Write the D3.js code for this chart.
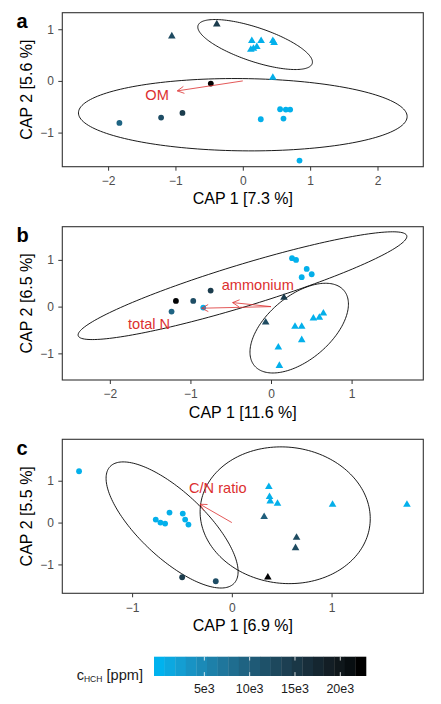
<!DOCTYPE html>
<html>
<head>
<meta charset="utf-8">
<script src="https://cdn.jsdelivr.net/npm/d3@7"></script>
<style>
  body { margin: 0; background: #fff; }
  svg text { font-family: "Liberation Sans", Arial, sans-serif; }
</style>
</head>
<body>
<svg id="chart" width="441" height="704"></svg>
<script>
// ---- data ----
const panelLetters = ['a', 'b', 'c'];
const xTitles = ['CAP 1 [7.3 %]', 'CAP 1 [11.6 %]', 'CAP 1 [6.9 %]'];
const yTitles = ['CAP 2 [5.6 %]', 'CAP 2 [6.5 %]', 'CAP 2 [5.5 %]'];

const xDomains = [[-2.68, 2.68], [-2.59, 1.89], [-1.70, 1.92]];
const yDomains = [[-1.66, 1.32], [-1.57, 1.71], [-1.69, 1.99]];
const xTicks = [[-2, -1, 0, 1, 2], [-2, -1, 0, 1], [-1, 0, 1]];
const yTicks = [[-1, 0, 1], [-1, 0, 1], [-1, 0, 1]];

// [CAP1, CAP2, cHCH ppm]
const aCircles = [
  [-0.475, -0.052, 22000], [-1.832, -0.813, 9300], [-1.213, -0.710, 12200],
  [-0.896, -0.619, 14500], [0.267, -0.742, 400], [0.554, -0.548, 300],
  [0.639, -0.555, 200], [0.703, -0.555, 300], [0.604, -0.729, 500],
  [0.842, -1.542, 200]
];
const aTriangles = [
  [-0.386, 1.097, 14500], [-1.054, 0.865, 12500], [0.134, 0.774, 300],
  [0.272, 0.774, 400], [0.158, 0.626, 200], [0.208, 0.658, 300],
  [0.119, 0.606, 500], [0.446, 0.774, 300], [0.465, 0.735, 200],
  [0.446, 0.065, 400]
];
const bCircles = [
  [-1.180, 0.121, 22000], [-1.234, -0.107, 9300], [-0.965, 0.121, 12200],
  [-0.749, 0.343, 14500], [-0.841, -0.021, 400], [0.261, 1.036, 300],
  [0.311, 1.000, 200], [0.443, 0.807, 300], [0.505, 0.693, 500],
  [0.381, 0.629, 200]
];
const bTriangles = [
  [0.161, 0.193, 14500], [-0.066, -0.336, 12500], [0.298, -0.429, 300],
  [0.381, -0.429, 400], [0.526, -0.250, 200], [0.600, -0.236, 300],
  [0.650, -0.143, 500], [0.381, -0.714, 300], [0.091, -0.871, 200],
  [0.104, -1.264, 400]
];
const cCircles = [
  [-1.532, 1.227, 300], [-0.763, 0.072, 400], [-0.716, 0.000, 200],
  [-0.669, -0.024, 300], [-0.625, 0.239, 500], [-0.492, 0.215, 300],
  [-0.468, 0.072, 200], [-0.435, -0.048, 400], [-0.498, -1.307, 14500],
  [-0.161, -1.402, 12200]
];
const cTriangles = [
  [0.371, 0.853, 300], [0.378, 0.614, 400], [0.385, 0.510, 200],
  [0.458, 0.454, 300], [1.010, 0.430, 500], [1.756, 0.430, 200],
  [0.324, 0.135, 10000], [0.649, -0.359, 12500], [0.639, -0.606, 12500],
  [0.361, -1.307, 22000]
];

// ellipses: [centre x, centre y, half-extent x, half-extent y, correlation]
const aEllipses = [[0.183, 0.704, 0.851, 0.484, -0.70], [0.0, -0.654, 2.44, 0.70, -0.05]];
const bEllipses = [[-0.354, 0.448, 2.04, 1.153, 0.914], [0.35, -0.46, 0.611, 0.96, 0.535]];
const cEllipses = [[-0.599, -0.057, 0.662, 1.507, -0.74], [0.535, 0.175, 0.853, 1.634, -0.05]];

// fitted vectors: [tip x, tip y, label, label x, label y]
const aVectors = [[-0.972, -0.193, 'OM', -1.273, -0.373]];
const bVectors = [[-0.476, 0.086, 'ammonium', -0.164, 0.347], [-0.861, -0.034, 'total N', -1.513, -0.478]];
const cVectors = [[-0.319, 0.438, 'C/N ratio', -0.141, 0.70]];

const cHchRange = [30, 22250];
const legendTicks = [5000, 10000, 15000, 20000];
const legendTickLabels = ['5e3', '10e3', '15e3', '20e3'];

// ---- layout ----
const plotLeft = 62.3, plotRight = 423.3;
const panelTops = [12.7, 226.7, 439.3];
const panelBottoms = [166.7, 380, 593.3];
const red = '#dc2f2f';

const svg = d3.select('#chart');
const color = d3.scaleLinear().domain(cHchRange).range(['#00b2ee', '#000000'])
  .interpolate(d3.interpolateLab);

const panels = [
  { circles: aCircles, triangles: aTriangles, ellipses: aEllipses, vectors: aVectors },
  { circles: bCircles, triangles: bTriangles, ellipses: bEllipses, vectors: bVectors },
  { circles: cCircles, triangles: cTriangles, ellipses: cEllipses, vectors: cVectors }
];

panels.forEach((p, i) => drawPanel(p, i));
drawLegend();

function drawPanel(p, i) {
  const top = panelTops[i], bottom = panelBottoms[i];
  const x = d3.scaleLinear().domain(xDomains[i]).range([plotLeft, plotRight]);
  const y = d3.scaleLinear().domain(yDomains[i]).range([bottom, top]);
  const g = svg.append('g');

  g.append('clipPath').attr('id', 'clip' + i)
    .append('rect')
    .attr('x', plotLeft).attr('y', top)
    .attr('width', plotRight - plotLeft).attr('height', bottom - top);

  const inner = g.append('g').attr('clip-path', `url(#clip${i})`);

  // ellipses
  const line = d3.line().curve(d3.curveLinearClosed);
  p.ellipses.forEach(([cx, cy, sx, sy, r]) => {
    const pts = d3.range(0, 180).map(k => {
      const t = 2 * Math.PI * k / 180;
      return [x(cx + sx * Math.cos(t)),
              y(cy + sy * (r * Math.cos(t) + Math.sqrt(1 - r * r) * Math.sin(t)))];
    });
    inner.append('path')
      .attr('d', line(pts))
      .attr('fill', 'none')
      .attr('stroke', '#000')
      .attr('stroke-width', 0.9);
  });

  // points
  inner.selectAll('circle.pt')
    .data(p.circles)
    .enter()
    .append('circle')
    .attr('class', 'pt')
    .attr('cx', d => x(d[0]))
    .attr('cy', d => y(d[1]))
    .attr('r', 2.9)
    .attr('fill', d => color(d[2]));

  const tri = d3.symbol().type(d3.symbolTriangle).size(25);
  inner.selectAll('path.tri')
    .data(p.triangles)
    .enter()
    .append('path')
    .attr('class', 'tri')
    .attr('d', tri)
    .attr('transform', d => `translate(${x(d[0])},${y(d[1])})`)
    .attr('fill', d => color(d[2]));

  // vectors
  p.vectors.forEach(([vx, vy, label, lx, ly]) => {
    const x0 = x(0), y0 = y(0), x1 = x(vx), y1 = y(vy);
    const ang = Math.atan2(y1 - y0, x1 - x0);
    const len = 7.5, spread = 28 * Math.PI / 180;
    inner.append('line')
      .attr('x1', x0).attr('y1', y0).attr('x2', x1).attr('y2', y1)
      .attr('stroke', red).attr('stroke-width', 0.8);
    inner.append('path')
      .attr('d', `M${x1 - len * Math.cos(ang - spread)},${y1 - len * Math.sin(ang - spread)}` +
                 `L${x1},${y1}` +
                 `L${x1 - len * Math.cos(ang + spread)},${y1 - len * Math.sin(ang + spread)}`)
      .attr('fill', 'none').attr('stroke', red).attr('stroke-width', 0.8);
    inner.append('text')
      .attr('x', x(lx)).attr('y', y(ly))
      .attr('text-anchor', 'middle')
      .attr('font-size', 14.6)
      .attr('fill', red)
      .text(label);
  });

  // axes
  const fmt = d3.format('d');
  const xAxis = g.append('g')
    .attr('transform', `translate(0,${bottom})`)
    .call(d3.axisBottom(x).tickValues(xTicks[i]).tickFormat(fmt).tickSize(4).tickPadding(5.9));
  const yAxis = g.append('g')
    .attr('transform', `translate(${plotLeft},0)`)
    .call(d3.axisLeft(y).tickValues(yTicks[i]).tickFormat(fmt).tickSize(4).tickPadding(4.3));
  [xAxis, yAxis].forEach(ax => {
    ax.select('.domain').remove();
    ax.selectAll('line').attr('stroke', '#333').attr('stroke-width', 1);
    ax.selectAll('text').attr('fill', '#4d4d4d').attr('font-size', 12)
      .attr('font-family', '"Liberation Sans", Arial, sans-serif');
  });

  // panel border
  g.append('rect')
    .attr('x', plotLeft).attr('y', top)
    .attr('width', plotRight - plotLeft).attr('height', bottom - top)
    .attr('fill', 'none').attr('stroke', '#333').attr('stroke-width', 1.1);

  // titles
  g.append('text')
    .attr('x', (plotLeft + plotRight) / 2)
    .attr('y', bottom + 37.7)
    .attr('text-anchor', 'middle')
    .attr('font-size', 16)
    .text(xTitles[i]);

  g.append('text')
    .attr('transform', `translate(32.3,${(top + bottom) / 2}) rotate(-90)`)
    .attr('text-anchor', 'middle')
    .attr('font-size', 16)
    .text(yTitles[i]);

  g.append('text')
    .attr('x', 16.5)
    .attr('y', top + 15.6)
    .attr('font-size', 20)
    .attr('font-weight', 'bold')
    .text(panelLetters[i]);
}

function drawLegend() {
  const barLeft = 154, barRight = 366, barTop = 656.7, barBottom = 676;
  const nbin = 20;
  const binW = (barRight - barLeft) / nbin;
  const g = svg.append('g');

  const binValues = d3.range(nbin).map(k =>
    cHchRange[0] + k / (nbin - 1) * (cHchRange[1] - cHchRange[0]));

  g.selectAll('rect.bin')
    .data(binValues)
    .enter()
    .append('rect')
    .attr('class', 'bin')
    .attr('x', (d, k) => barLeft + k * binW)
    .attr('y', barTop)
    .attr('width', binW + 0.3)
    .attr('height', barBottom - barTop)
    .attr('fill', d => color(d));

  const lx = d3.scaleLinear().domain(cHchRange)
    .range([barLeft + binW / 2, barRight - binW / 2]);
  const tickLen = (barBottom - barTop) / 5;

  legendTicks.forEach((v, k) => {
    g.append('line')
      .attr('x1', lx(v)).attr('x2', lx(v))
      .attr('y1', barTop).attr('y2', barTop + tickLen)
      .attr('stroke', '#fff').attr('stroke-width', 0.8);
    g.append('line')
      .attr('x1', lx(v)).attr('x2', lx(v))
      .attr('y1', barBottom - tickLen).attr('y2', barBottom)
      .attr('stroke', '#fff').attr('stroke-width', 0.8);
    g.append('text')
      .attr('x', lx(v)).attr('y', 693.3)
      .attr('text-anchor', 'middle')
      .attr('font-size', 12.5)
      .attr('fill', '#1a1a1a')
      .text(legendTickLabels[k]);
  });

  const title = g.append('text')
    .attr('x', 76.7).attr('y', 680)
    .attr('font-size', 14.6)
    .attr('fill', '#1a1a1a');
  title.append('tspan').text('c');
  title.append('tspan').attr('font-size', 8.5).attr('dy', 2).text('HCH');
  title.append('tspan').attr('dy', -2).text(' [ppm]');
}
</script>
</body>
</html>
